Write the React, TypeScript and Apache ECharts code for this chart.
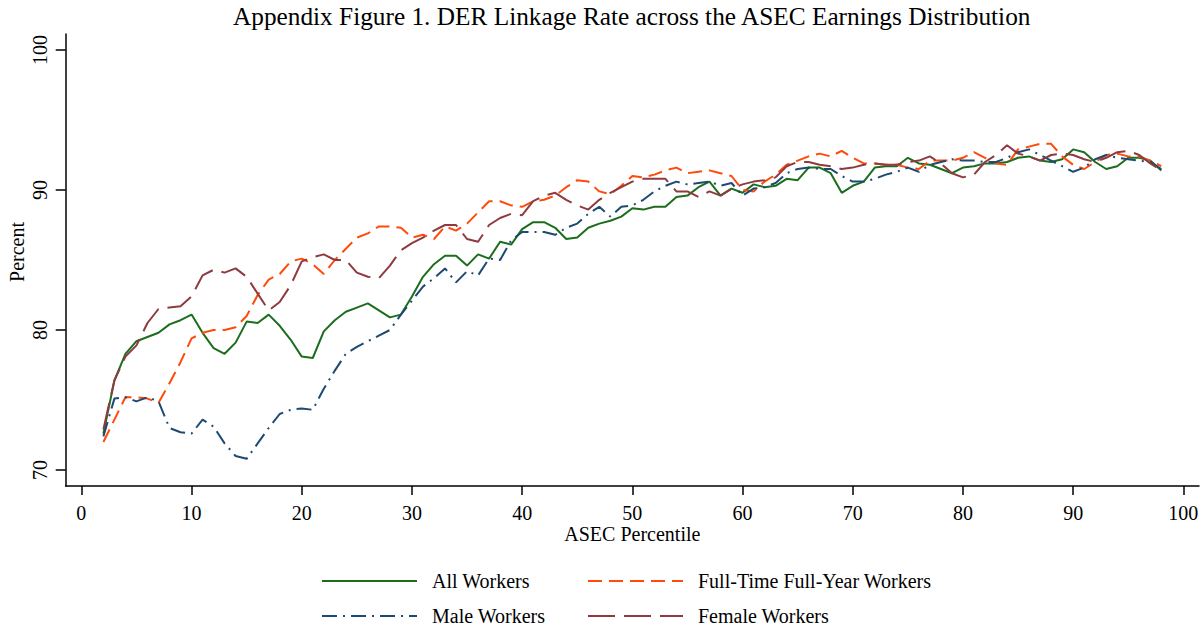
import React, { useEffect, useRef } from "react";
import * as echarts from "echarts";

const percentiles: number[] = [];
for (let p = 2; p <= 98; p++) percentiles.push(p);

const allWorkers = [
  72.6, 76.4, 78.3, 79.2, 79.5, 79.8, 80.4, 80.7, 81.1, 79.8,
  78.7, 78.3, 79.1, 80.6, 80.5, 81.1, 80.3, 79.3, 78.1, 78.0,
  79.9, 80.7, 81.3, 81.6, 81.9, 81.4, 80.9, 81.1, 82.4, 83.8,
  84.7, 85.3, 85.3, 84.6, 85.4, 85.1, 86.3, 86.1, 87.2, 87.7,
  87.7, 87.3, 86.5, 86.6, 87.3, 87.6, 87.8, 88.1, 88.7, 88.6,
  88.8, 88.8, 89.5, 89.6, 90.2, 90.6, 89.6, 90.1, 89.8, 90.4,
  90.2, 90.3, 90.8, 90.7, 91.6, 91.6, 91.2, 89.8, 90.3, 90.6,
  91.6, 91.7, 91.7, 92.3, 91.9, 91.8, 91.5, 91.2, 91.6, 91.7,
  91.9, 91.9, 92.0, 92.3, 92.4, 92.1, 92.0, 92.2, 92.9, 92.7,
  92.0, 91.5, 91.7, 92.3, 92.3, 92.1, 91.4,
];

const fullTimeFullYear = [
  72.0, 73.6, 75.2, 75.2, 75.1, 74.8, 76.2, 77.7, 79.4, 79.8,
  80.0, 80.0, 80.2, 81.0, 82.5, 83.6, 84.0, 84.9, 85.1, 84.7,
  84.0, 85.0, 85.8, 86.6, 86.9, 87.4, 87.4, 87.3, 86.6, 86.8,
  86.5, 87.4, 87.1, 87.6, 88.4, 89.2, 89.2, 88.9, 88.8, 89.2,
  89.3, 89.6, 90.2, 90.7, 90.6, 89.9, 89.7, 90.3, 91.0, 90.9,
  91.1, 91.4, 91.6, 91.2, 91.3, 91.4, 91.2, 91.0, 90.0, 89.9,
  90.6, 91.1, 91.8, 92.1, 92.4, 92.6, 92.4, 92.8, 92.3, 91.9,
  91.9, 91.8, 91.8, 91.6, 91.5, 92.1, 92.1, 92.1, 92.3, 92.7,
  92.3, 91.9, 91.8, 92.9, 93.1, 93.3, 93.3, 92.4, 91.8, 91.5,
  92.0, 92.5, 92.6, 92.4, 92.4, 92.1, 91.7,
];

const maleWorkers = [
  72.4, 75.1, 75.2, 74.9, 75.2, 74.9, 73.0, 72.7, 72.6, 73.6,
  73.1, 71.9, 71.0, 70.8, 71.9, 73.0, 74.0, 74.3, 74.4, 74.3,
  75.8, 77.1, 78.3, 78.8, 79.2, 79.6, 80.0, 81.1, 82.1, 83.1,
  83.7, 84.4, 83.4, 84.2, 83.9, 85.1, 85.0, 86.4, 87.0, 87.0,
  87.0, 86.8, 87.3, 87.6, 88.3, 88.8, 88.1, 88.8, 88.9, 89.3,
  89.9, 90.3, 90.6, 90.4, 90.5, 90.6, 90.3, 90.5, 89.6, 90.1,
  90.2, 90.5, 91.2, 91.5, 91.6, 91.5, 91.5, 91.0, 90.6, 90.6,
  90.8, 91.1, 91.3, 91.6, 91.3, 91.8, 92.0, 92.2, 92.1, 92.1,
  92.0, 92.0, 92.3, 92.7, 92.9, 92.5, 92.1, 91.7, 91.3, 91.6,
  92.2, 92.5, 92.3, 92.2, 92.1, 92.0, 91.5,
];

const femaleWorkers = [
  72.9, 76.4, 78.1, 78.9, 80.5, 81.5, 81.6, 81.7, 82.4, 83.9,
  84.3, 84.1, 84.4, 83.8, 82.6, 81.4, 82.0, 83.2, 84.9, 85.2,
  85.4, 85.0, 85.0, 84.1, 83.8, 83.7, 84.6, 85.7, 86.2, 86.6,
  87.1, 87.5, 87.5, 86.5, 86.3, 87.5, 88.0, 88.3, 88.2, 89.2,
  89.6, 89.8, 89.3, 88.9, 88.6, 89.3, 89.8, 90.2, 90.6, 90.8,
  90.8, 90.8, 89.9, 89.9, 89.5, 89.9, 89.6, 90.1, 90.4, 90.6,
  90.7, 90.9, 91.7, 92.0, 92.0, 91.8, 91.7, 91.5, 91.6, 91.8,
  91.9, 91.8, 91.8, 92.0, 92.1, 92.4, 91.9, 91.2, 90.9, 91.1,
  92.0, 92.5, 93.2, 92.6, 92.4, 92.1, 92.5, 92.6, 92.5, 92.2,
  92.0, 92.3, 92.7, 92.8, 92.5, 91.9, 91.4,
];

const xTicks = [0, 10, 20, 30, 40, 50, 60, 70, 80, 90, 100];
const yTicks = [70, 80, 90, 100];

const FONT = "'Liberation Serif', 'Times New Roman', serif";

const seriesDefs = [
  { name: "All Workers", data: allWorkers, color: "#1c6d1c", type: "solid" as any },
  { name: "Full-Time Full-Year Workers", data: fullTimeFullYear, color: "#ff4a0a", type: [14, 7] as any },
  { name: "Male Workers", data: maleWorkers, color: "#1d4a72", type: [15, 6, 2, 6] as any },
  { name: "Female Workers", data: femaleWorkers, color: "#8e3a40", type: [27, 9] as any },
];

const legendPos = [
  { name: "All Workers", left: 321, top: 571 },
  { name: "Full-Time Full-Year Workers", left: 587, top: 571 },
  { name: "Male Workers", left: 321, top: 606 },
  { name: "Female Workers", left: 587, top: 606 },
];

export default function App() {
  const ref = useRef<HTMLDivElement>(null);
  useEffect(() => {
    if (!ref.current) return;
    const chart = echarts.init(ref.current, null, { renderer: "svg" });
    chart.setOption({
      animation: false,
      backgroundColor: "#ffffff",
      textStyle: { fontFamily: FONT },
      title: {
        text: "Appendix Figure 1. DER Linkage Rate across the ASEC Earnings Distribution",
        left: 233,
        top: 3,
        padding: 0,
        textStyle: { fontFamily: FONT, fontSize: 25.3, fontWeight: "normal", color: "#000" },
      },
      grid: { left: 65.7, right: 5, top: 34, bottom: 146, containLabel: false, outerBoundsMode: "none" },
      legend: legendPos.map((l) => ({
        data: [l.name],
        left: l.left,
        top: l.top,
        padding: 0,
        itemWidth: 95,
        itemHeight: 20,
        itemStyle: { opacity: 0 },
        textStyle: { fontFamily: FONT, fontSize: 20, color: "#000", padding: [0, 0, 0, 10], lineHeight: 20 },
        selectedMode: false,
      })),
      xAxis: {
        type: "value",
        min: -1.42,
        max: 101.42,
        name: "ASEC Percentile",
        nameLocation: "middle",
        nameGap: 38,
        nameMoveOverlap: false,
        nameTextStyle: { fontFamily: FONT, fontSize: 20, color: "#000" },
        axisLine: { show: true, onZero: false, lineStyle: { color: "#000", width: 1.5 } },
        axisTick: { show: true, length: 9, customValues: xTicks, lineStyle: { color: "#000", width: 1.5 } },
        axisLabel: { customValues: xTicks, margin: 17, fontFamily: FONT, fontSize: 20, color: "#000" },
        splitLine: { show: false },
      },
      yAxis: {
        type: "value",
        min: 68.857,
        max: 101.143,
        name: "Percent",
        nameLocation: "middle",
        nameRotate: 90,
        nameGap: 39,
        nameMoveOverlap: false,
        nameTextStyle: { fontFamily: FONT, fontSize: 20, color: "#000", padding: [0, 0, 0, 16] },
        axisLine: { show: true, onZero: false, lineStyle: { color: "#000", width: 1.5 } },
        axisTick: { show: true, length: 10, customValues: yTicks, lineStyle: { color: "#000", width: 1.5 } },
        axisLabel: { customValues: yTicks, rotate: 90, margin: 16, fontFamily: FONT, fontSize: 20, color: "#000" },
        splitLine: { show: false },
      },
      series: seriesDefs.map((s) => ({
        name: s.name,
        type: "line",
        data: percentiles.map((p, i) => [p, s.data[i]]),
        symbol: "none",
        showSymbol: false,
        color: s.color,
        lineStyle: { color: s.color, width: 2, type: s.type },
      })),
    });
    return () => chart.dispose();
  }, []);
  return (
    <div
      ref={ref}
      style={{ position: "fixed", left: 0, top: 0, width: 1204, height: 632, background: "#fff" }}
    />
  );
}
